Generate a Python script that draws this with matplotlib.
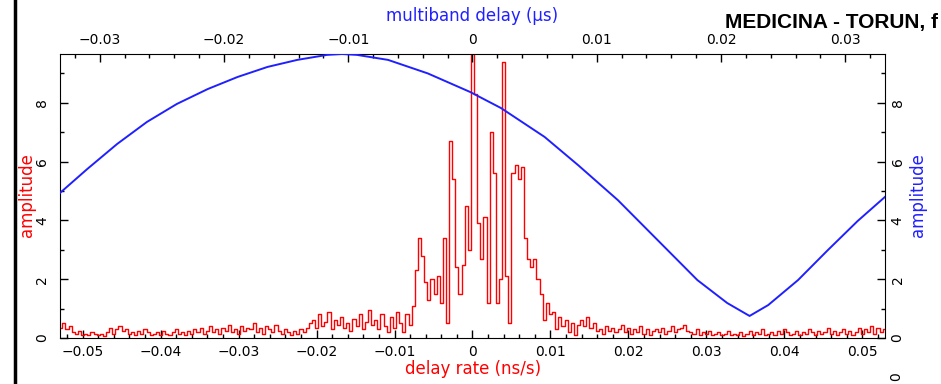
import numpy as np
import matplotlib
matplotlib.use("Agg")
import matplotlib.pyplot as plt
from matplotlib.ticker import MultipleLocator
from matplotlib.lines import Line2D

# delay-rate spectrum (red), bins of 0.0004 ns/s starting at -0.0528
rate_start = -0.0528
rate_step = 0.0004
amp_left = [
    0.35, 0.5, 0.3, 0.4, 0.2, 0.15, 0.25, 0.1, 0.15, 0.1, 0.2, 0.12, 0.1, 0.15, 0.08, 0.2, 0.35, 0.15, 0.3, 0.4, 0.25,
    0.3, 0.15, 0.2, 0.1, 0.25, 0.15, 0.3, 0.2, 0.1, 0.15, 0.2, 0.1, 0.25, 0.15, 0.1, 0.2, 0.3, 0.15, 0.2, 0.1,
    0.25, 0.15, 0.3, 0.2, 0.35, 0.15, 0.25, 0.4, 0.2, 0.3, 0.15, 0.35, 0.25, 0.45, 0.2, 0.3, 0.15, 0.4, 0.25, 0.35,
    0.3, 0.5, 0.2, 0.35, 0.15, 0.4, 0.3, 0.2, 0.45, 0.25, 0.15, 0.3, 0.2, 0.1, 0.25, 0.15, 0.3, 0.2, 0.35, 0.5,
    0.6, 0.35, 0.8, 0.4, 0.55, 0.9, 0.3, 0.6, 0.45, 0.7, 0.35, 0.5, 0.25, 0.65, 0.4, 0.8, 0.3, 0.55, 0.95, 0.45,
]
amp_core = [
    0.6, 0.3, 0.8, 0.4, 0.2, 0.7, 0.35, 0.9, 0.5, 0.2,
    0.8, 0.45, 1.1, 2.3, 3.4, 2.8, 1.9, 1.3, 2.0, 1.5,
    2.1, 1.2, 3.4, 0.5, 6.7, 5.4, 2.4, 1.5, 2.5, 4.5,
    3.0, 9.9, 8.3, 3.9, 2.7, 4.1, 1.2, 7.0, 5.6, 1.2,
    2.0, 9.4, 2.1, 0.5, 5.6, 5.9, 5.4, 5.8, 3.4, 2.7,
    2.4, 2.7, 2.0, 1.5, 0.6, 1.2, 0.8, 0.9, 0.3, 0.7,
    0.4, 0.6, 0.2, 0.5, 0.1, 0.45,
]
amp_right = [
    0.6, 0.4, 0.7, 0.35, 0.5, 0.25, 0.3, 0.15, 0.4, 0.25, 0.35, 0.2, 0.3, 0.45, 0.2, 0.35, 0.15, 0.3, 0.2, 0.4, 0.15, 0.3, 0.1, 0.25,
    0.3, 0.2, 0.35, 0.15, 0.25, 0.4, 0.2, 0.3, 0.35, 0.45, 0.25, 0.2, 0.15, 0.3, 0.1, 0.2, 0.15, 0.25, 0.1, 0.15, 0.2, 0.1, 0.15, 0.25, 0.1,
    0.15, 0.1, 0.2, 0.08, 0.15, 0.25, 0.1, 0.2, 0.15, 0.3,
    0.1, 0.15, 0.2, 0.1, 0.25, 0.15, 0.3, 0.2, 0.1, 0.15,
    0.25, 0.1, 0.2, 0.15, 0.3, 0.2, 0.1, 0.25, 0.15, 0.2,
    0.35, 0.15, 0.25, 0.1, 0.2, 0.3, 0.15, 0.25, 0.1, 0.2,
    0.35, 0.15, 0.3, 0.2, 0.4, 0.15, 0.35, 0.2, 0.3,
]

# multiband delay function (blue)
mbd_delay = [-0.0334, -0.0310, -0.0286, -0.0262, -0.0238, -0.0213, -0.0189, -0.0165,
             -0.0141, -0.0117, -0.0105, -0.0093, -0.0068, -0.0036, -0.0002, 0.0023,
             0.0058, 0.0085, 0.0117, 0.0149, 0.0181, 0.0205, 0.0223, 0.0238,
             0.0262, 0.0286, 0.0310, 0.0332]
mbd_amp = [4.86, 5.75, 6.6, 7.35, 7.96, 8.47, 8.88, 9.22,
           9.46, 9.63, 9.66, 9.63, 9.46, 9.0, 8.37, 7.82,
           6.84, 5.88, 4.69, 3.33, 1.97, 1.19, 0.75, 1.12,
           1.97, 2.99, 3.98, 4.8]

amp = np.array(amp_left + amp_core + amp_right)
rate = rate_start + rate_step * np.arange(len(amp))

W, H = 941, 384
fig = plt.figure(figsize=(W / 100, H / 100), dpi=100)
fig.patch.set_facecolor("white")

pos = [60 / W, 1 - 338 / H, 825 / W, 284 / H]
ax = fig.add_axes(pos)
ax.plot(rate, amp, color="red", lw=1.0, drawstyle="steps-mid")
ax.set_xlim(-0.0529, 0.0529)
ax.set_ylim(0, 9.66)

ax2 = fig.add_axes(pos, frameon=False)
ax2.plot(mbd_delay, mbd_amp, color="#2020ff", lw=1.4)
ax2.set_xlim(-0.0332, 0.0332)
ax2.set_ylim(0, 9.66)
ax2.xaxis.tick_top()
ax2.yaxis.tick_right()
ax2.patch.set_visible(False)

for a in (ax, ax2):
    a.xaxis.set_major_locator(MultipleLocator(0.01))
    a.xaxis.set_minor_locator(MultipleLocator(0.002))
    a.yaxis.set_major_locator(MultipleLocator(2))
    a.yaxis.set_minor_locator(MultipleLocator(1))
    a.tick_params(which="major", direction="in", length=6, width=1, labelsize=10)
    a.tick_params(which="minor", direction="in", length=3, width=1)

ax.tick_params(axis="x", pad=5)
ax.tick_params(axis="y", pad=8, labelrotation=90)
ax2.tick_params(axis="x", pad=5)
ax2.tick_params(axis="y", pad=4, labelrotation=90)
for lab in ax.get_yticklabels() + ax2.get_yticklabels():
    lab.set_va("center")

def fmt(v, p):
    if abs(v) < 1e-9:
        return "0"
    return ("%.2f" % v).replace("-", "\u2212")

ax.xaxis.set_major_formatter(fmt)
ax2.xaxis.set_major_formatter(fmt)

# axis captions
fig.text(27 / W, 1 - 195 / H, "amplitude", color="red", rotation=90,
         ha="center", va="center", fontsize=12)
fig.text(918 / W, 1 - 195 / H, "amplitude", color="#2020ff", rotation=90,
         ha="center", va="center", fontsize=12)
fig.text(473 / W, 1 - 369 / H, "delay rate (ns/s)", color="red",
         ha="center", va="center", fontsize=12)
fig.text(472 / W, 1 - 16 / H, "multiband delay (\u03bcs)", color="#2020ff",
         ha="center", va="center", fontsize=12)
fig.text(938 / W, 1 - 28 / H, "MEDICINA - TORUN, f", color="black",
         ha="right", va="baseline", fontsize=15, fontweight="bold",
         family="Liberation Sans")
fig.text(896 / W, 1 - 377 / H, "0", rotation=90, ha="center", va="center",
         fontsize=10)

# window edge on the left
fig.add_artist(Line2D([15 / W, 15 / W], [0, 1], color="black", lw=2.5,
                      transform=fig.transFigure))

fig.savefig("out.png", dpi=100)
